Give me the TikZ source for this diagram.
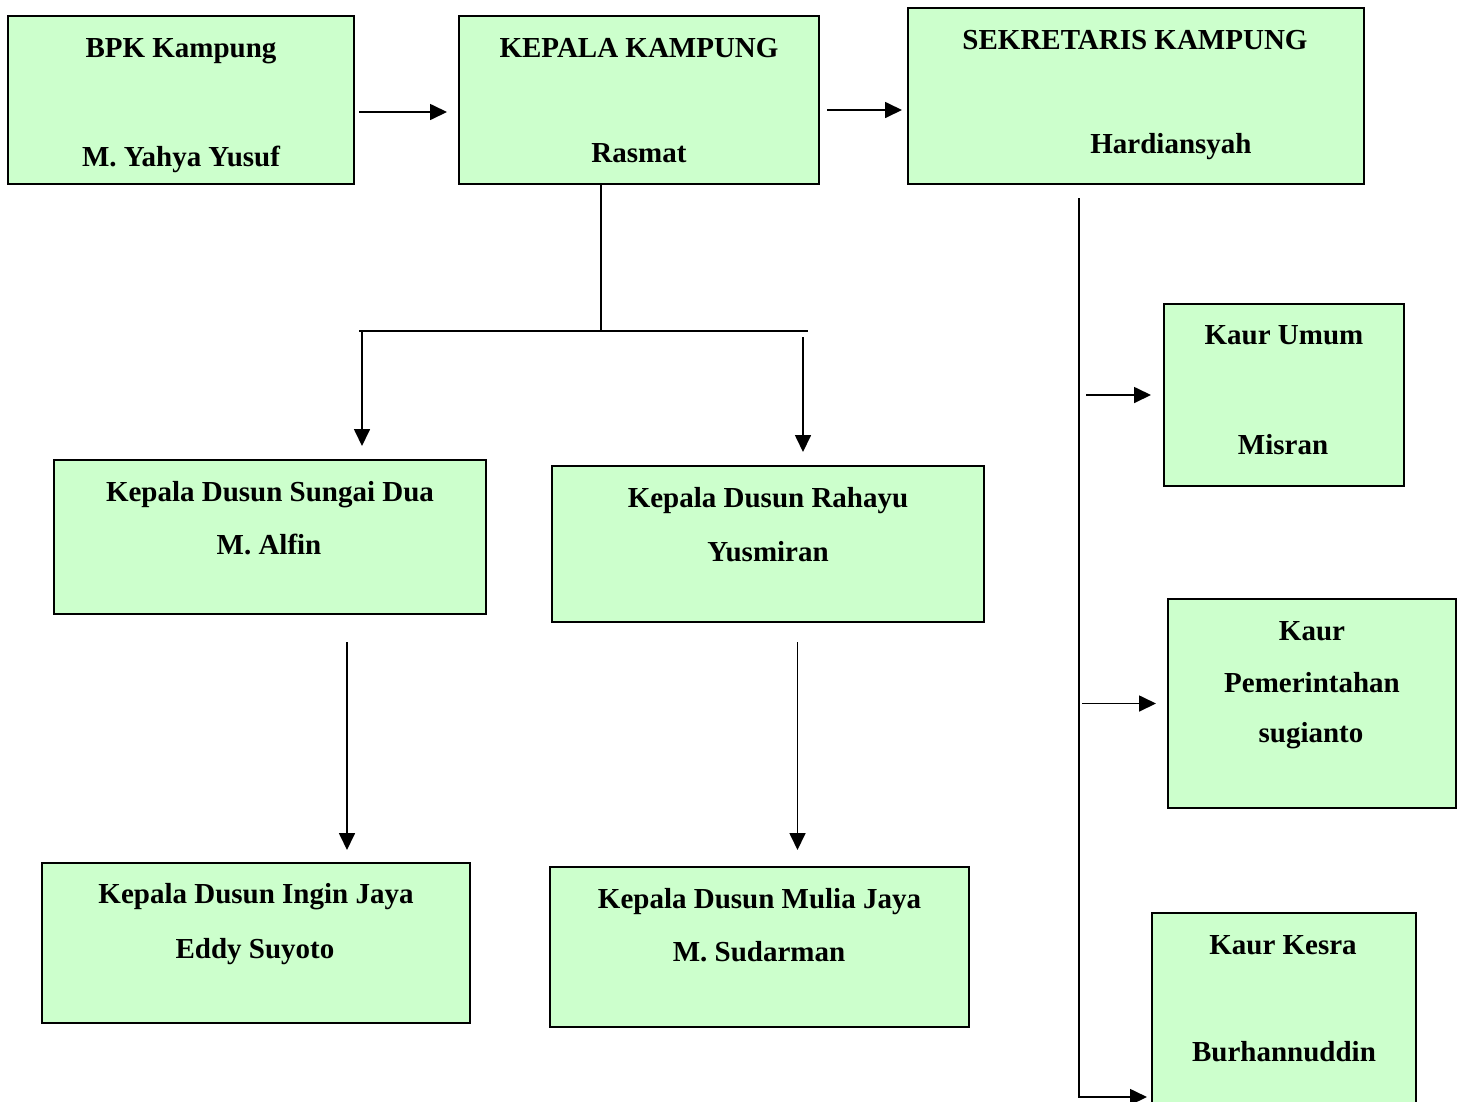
\documentclass[tikz,border=0pt]{standalone}
\usepackage{fontspec}
\setmainfont{Liberation Serif}
\usetikzlibrary{arrows.meta,positioning}
\definecolor{boxgreen}{HTML}{CCFFCC}
\tikzset{
    unit/.style={draw, fill=boxgreen, line width=2pt, inner sep=0pt},
    lbl/.style={anchor=base, inner sep=0pt, font=\fontsize{29}{34}\selectfont\bfseries},
    arr/.style={line width=1.7pt, -{Triangle[length=17pt,width=16pt]}},
    ln/.style={line width=1.7pt}
}
\begin{document}
\begin{tikzpicture}[x=1pt, y=-1pt]
\useasboundingbox (0,0) rectangle (1461,1101);
\clip (0,0) rectangle (1461,1101);

\node (bpk) at (181, 100) [unit, minimum width=346pt, minimum height=168pt] {};
\node (kepala) at (639, 100) [unit, minimum width=360pt, minimum height=168pt] {};
\node (sekretaris) at (1136, 96) [unit, minimum width=456pt, minimum height=176pt] {};
\node (umum) at (1284, 395) [unit, minimum width=240pt, minimum height=182pt] {};
\node (pemerintahan) at (1312, 703.5) [unit, minimum width=288pt, minimum height=209pt] {};
\node (kesra) at (1284, 1016.5) [unit, minimum width=264pt, minimum height=207pt] {};
\node (sungai) at (270, 537) [unit, minimum width=432pt, minimum height=154pt] {};
\node (rahayu) at (768, 544) [unit, minimum width=432pt, minimum height=156pt] {};
\node (ingin) at (256, 943) [unit, minimum width=428pt, minimum height=160pt] {};
\node (mulia) at (759.5, 947) [unit, minimum width=419pt, minimum height=160pt] {};

\node (bpk-a) at (181, 57) [lbl] {BPK Kampung};
\node (bpk-b) at (181, 166) [lbl] {M. Yahya Yusuf};
\node (kepala-a) at (639, 57) [lbl] {KEPALA KAMPUNG};
\node (kepala-b) at (639, 162) [lbl] {Rasmat};
\node (sekretaris-a) at (1135, 49) [lbl] {SEKRETARIS KAMPUNG};
\node (sekretaris-b) at (1171, 153) [lbl] {Hardiansyah};
\node (umum-a) at (1284, 344) [lbl] {Kaur Umum};
\node (umum-b) at (1283, 454) [lbl] {Misran};
\node (pemerintahan-a) at (1312, 640) [lbl] {Kaur};
\node (pemerintahan-b) at (1312, 692) [lbl] {Pemerintahan};
\node (pemerintahan-c) at (1311, 742) [lbl] {sugianto};
\node (kesra-a) at (1283, 954) [lbl] {Kaur Kesra};
\node (kesra-b) at (1284, 1061) [lbl] {Burhannuddin};
\node (sungai-a) at (270, 501) [lbl] {Kepala Dusun Sungai Dua};
\node (sungai-b) at (269, 554) [lbl] {M. Alfin};
\node (rahayu-a) at (768, 507) [lbl] {Kepala Dusun Rahayu};
\node (rahayu-b) at (768, 561) [lbl] {Yusmiran};
\node (ingin-a) at (256, 903) [lbl] {Kepala Dusun Ingin Jaya};
\node (ingin-b) at (255, 958) [lbl] {Eddy Suyoto};
\node (mulia-a) at (759.5, 908) [lbl] {Kepala Dusun Mulia Jaya};
\node (mulia-b) at (759, 961) [lbl] {M. Sudarman};

\coordinate (split) at (601, 331);
\coordinate (busL) at (359, 331);
\coordinate (busR) at (808, 331);
\coordinate (spine) at (1079, 1097);

\draw[arr, shorten <=4pt, shorten >=11pt] ([yshift=-12pt]bpk.east) -- ([yshift=-12pt]kepala.west);
\draw[arr, shorten <=7pt, shorten >=5pt] ([yshift=-10pt]kepala.east) -- ([yshift=-14pt]sekretaris.west);

% kepala kampung to the dusun heads
\draw[ln] ([xshift=-38pt]kepala.south) -- (split);
\draw[ln] (busL) -- (busR);
\draw[arr, shorten >=13pt] ([xshift=92pt]sungai.north |- busL) -- ([xshift=92pt]sungai.north);
\draw[arr, shorten <=6pt, shorten >=13pt] ([xshift=35pt]rahayu.north |- busR) -- ([xshift=35pt]rahayu.north);
\draw[arr, shorten <=27pt, shorten >=12pt] ([xshift=77pt]sungai.south) -- ([xshift=77pt]sungai.south |- ingin.north);
\draw[arr, shorten <=19pt, shorten >=16pt] ([xshift=29.5pt]rahayu.south) -- ([xshift=29.5pt]rahayu.south |- mulia.north);

% sekretaris to the kaur
\draw[arr, shorten <=13pt, shorten >=4pt] ([xshift=-57pt]sekretaris.south) |- (spine -| kesra.west);
\draw[arr, shorten <=7pt, shorten >=12pt] (spine |- umum.west) -- (umum.west);
\draw[arr, shorten <=3pt, shorten >=11pt] (spine |- pemerintahan.west) -- (pemerintahan.west);
\end{tikzpicture}
\end{document}
